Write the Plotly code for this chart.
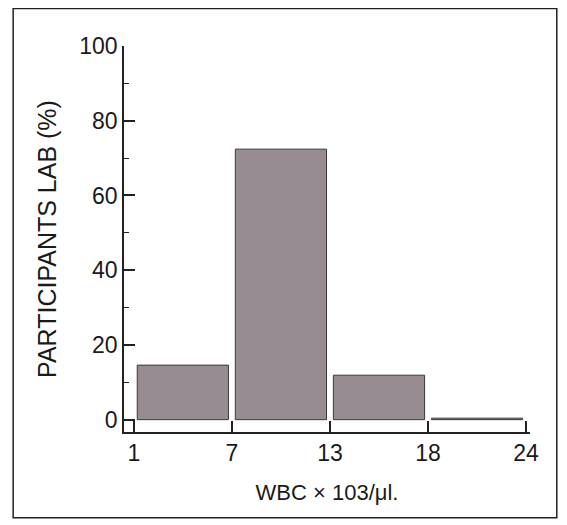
import plotly.graph_objects as go

bin_edges = ["1", "7", "13", "18", "24"]
percent = [14.6, 72.4, 11.9, 0.4]

edge_pos = list(range(len(bin_edges)))
centers = [i + 0.5 for i in range(len(percent))]

FONT = "Liberation Sans, Arial, sans-serif"

fig = go.Figure()
fig.add_trace(go.Bar(
    x=centers, y=percent, width=0.93,
    marker=dict(color="#978c91", line=dict(color="#3a3a3a", width=1)),
    hoverinfo="skip",
))

fig.update_layout(
    width=567, height=525,
    margin=dict(l=116, r=45, t=38, b=101, autoexpand=False),
    paper_bgcolor="white", plot_bgcolor="white",
    showlegend=False,
    font=dict(family=FONT, size=22, color="#1a1a1a"),
    xaxis=dict(
        range=[-0.1, 4.04], automargin=False,
        tickmode="array", tickvals=edge_pos, ticktext=bin_edges,
        ticks="inside", ticklen=11, tickwidth=1.5, tickcolor="#222",
        showline=True, linecolor="#222", linewidth=1.5,
        showgrid=False, zeroline=False,
        title=dict(text="WBC × 103/μl.", standoff=19, font=dict(size=22)),
        tickfont=dict(size=23),
    ),
    yaxis=dict(
        range=[-3.3, 100], automargin=False,
        tickmode="array", tickvals=[0, 20, 40, 60, 80, 100],
        ticks="inside", ticklen=11, tickwidth=1.5, tickcolor="#222",
        minor=dict(tickmode="array", tickvals=[10, 30, 50, 70, 90],
                   ticks="inside", ticklen=5, tickwidth=1, tickcolor="#222"),
        showline=True, linecolor="#222", linewidth=1.5,
        showgrid=False, zeroline=False,
        title=dict(text="PARTICIPANTS LAB (%)", standoff=16, font=dict(size=25)),
        tickfont=dict(size=23),
    ),
    shapes=[dict(type="rect", xref="paper", yref="paper",
                 x0=-0.273, x1=1.066, y0=-0.222, y1=1.097,
                 line=dict(color="#222", width=1.5))],
)

fig.write_html("out.html")
